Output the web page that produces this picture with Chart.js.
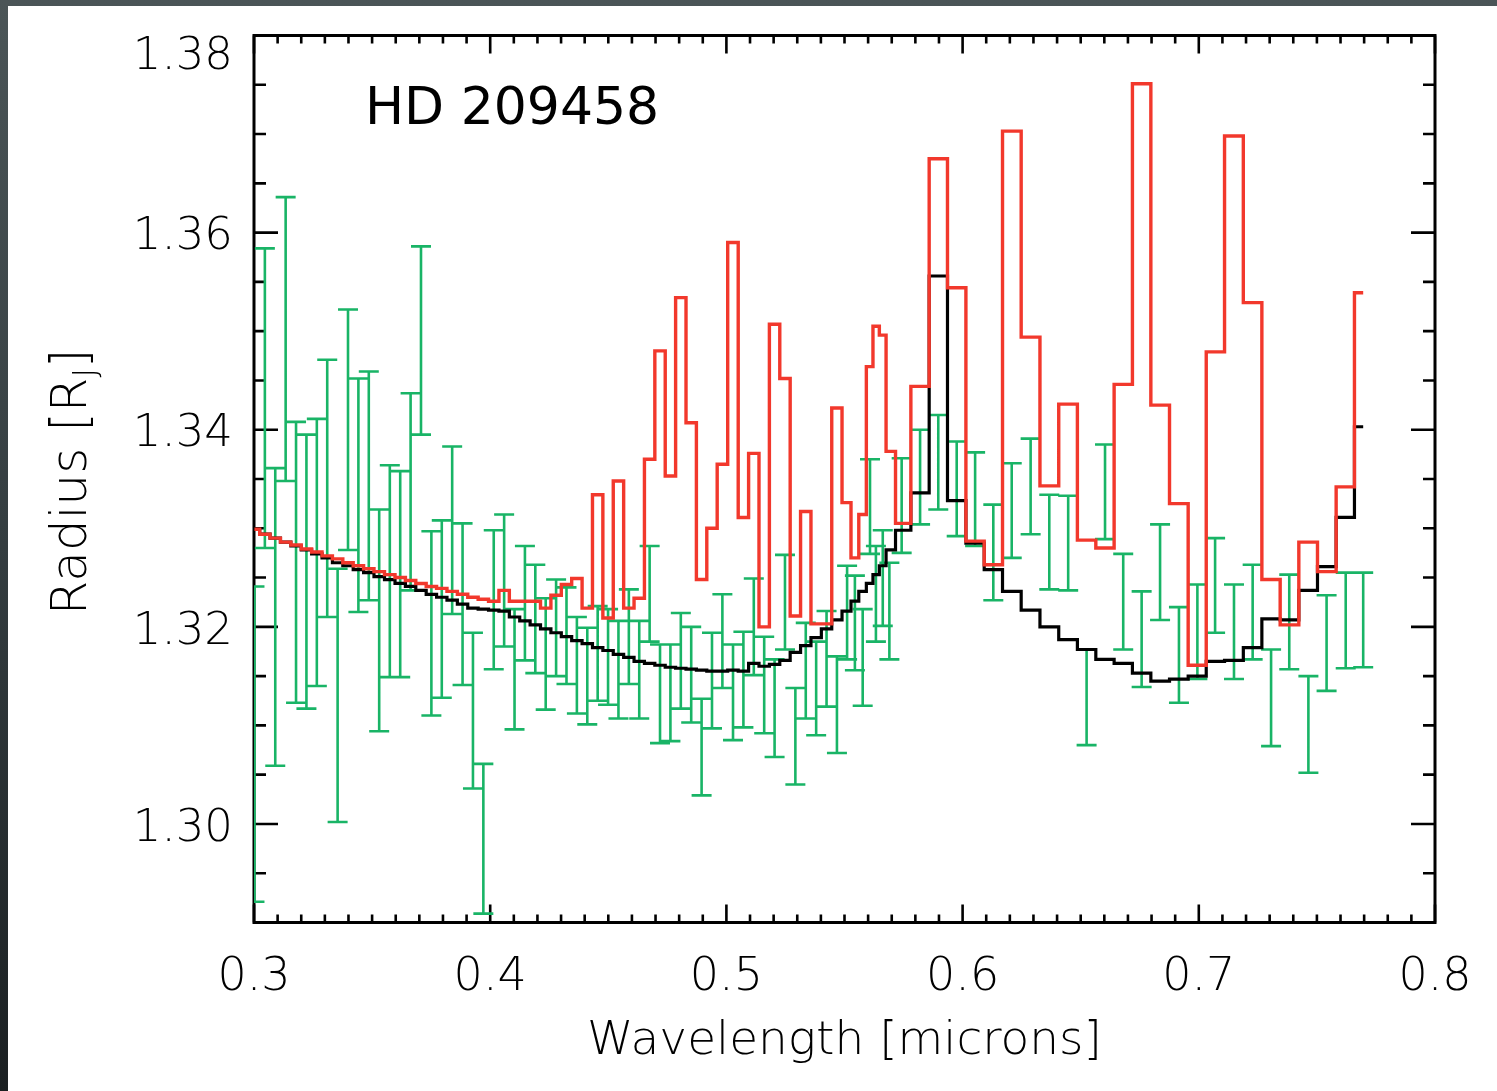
<!DOCTYPE html>
<html>
<head>
<meta charset="utf-8">
<style>
  html, body { margin: 0; padding: 0; width: 1497px; height: 1091px; overflow: hidden;
    background: linear-gradient(180deg, #4b5557 0%, #343d40 50%, #1b2022 100%); }
  #wrap { position: absolute; left: 8px; top: 6px; width: 1489px; height: 1085px; background: #ffffff; }
  canvas { display: block; }
</style>
<script src="https://cdn.jsdelivr.net/npm/chart.js@4/dist/chart.umd.min.js"></script>
</head>
<body>
<div id="wrap"><canvas id="c" width="1489" height="1085" style="width:1489px;height:1085px"></canvas></div>
<script>
// ---------------- data ----------------
const wavelength = [
  0.3002, 0.3046, 0.3090, 0.3134, 0.3178, 0.3222, 0.3266, 0.3310, 0.3354, 0.3398,
  0.3442, 0.3486, 0.3530, 0.3575, 0.3619, 0.3663, 0.3707, 0.3751, 0.3795, 0.3839,
  0.3883, 0.3927, 0.3971, 0.4015, 0.4059, 0.4103, 0.4147, 0.4191, 0.4235, 0.4279,
  0.4323, 0.4367, 0.4411, 0.4455, 0.4499, 0.4543, 0.4587, 0.4631, 0.4675, 0.4719,
  0.4763, 0.4807, 0.4851, 0.4895, 0.4939, 0.4983, 0.5028, 0.5072, 0.5116, 0.5160,
  0.5204, 0.5248, 0.5292, 0.5336, 0.5380, 0.5424, 0.5468,
  0.5511, 0.5544, 0.5577, 0.5608, 0.5633, 0.5662, 0.5690,
  0.5742, 0.5820, 0.5897, 0.5975, 0.6053, 0.6130, 0.6208, 0.6288, 0.6367, 0.6447,
  0.6525, 0.6603, 0.6680, 0.6758, 0.6836, 0.6916, 0.6994, 0.7069, 0.7149, 0.7228,
  0.7306, 0.7383, 0.7464, 0.7541, 0.7622, 0.7696
];
// observed radius: upper and lower ends of the error bars
const obsUpper = [
  1.3241, 1.3584, 1.3361, 1.3636, 1.3408, 1.3395, 1.3411, 1.3471, 1.3259, 1.3522,
  1.3452, 1.3459, 1.3319, 1.3364, 1.3358, 1.3437, 1.3586, 1.3297, 1.3308, 1.3383,
  1.3305, 1.3194, 1.3061, 1.3298, 1.3314, 1.3218, 1.3282, 1.3263, 1.3229, 1.3248,
  1.3240, 1.3210, 1.3199, 1.3221, 1.3218, 1.3206, 1.3238, 1.3206, 1.3282, 1.3182,
  1.3182, 1.3214, 1.3200, 1.3127, 1.3194, 1.3233, 1.3182, 1.3195, 1.3249, 1.3190,
  1.3167, 1.3273, 1.3138, 1.3204, 1.3185, 1.3216, 1.3170,
  1.3262, 1.3252, 1.3218, 1.3370, 1.3282, 1.3298, 1.3265,
  1.3371, 1.3400, 1.3415, 1.3388, 1.3377, 1.3324, 1.3366, 1.3391, 1.3334, 1.3333,
  1.3177, 1.3385, 1.3274, 1.3236, 1.3304, 1.3220, 1.3243, 1.3290, 1.3243, 1.3263,
  1.3177, 1.3253, 1.3150, 1.3232, 1.3255, 1.3255
];
const obsLower = [
  1.2921, 1.3280, 1.3059, 1.3348, 1.3123, 1.3117, 1.3140, 1.3210, 1.3002, 1.3278,
  1.3215, 1.3227, 1.3094, 1.3149, 1.3149, 1.3237, 1.3395, 1.3110, 1.3128, 1.3213,
  1.3141, 1.3036, 1.2909, 1.3157, 1.3180, 1.3096, 1.3166, 1.3153, 1.3116, 1.3150,
  1.3142, 1.3112, 1.3101, 1.3125, 1.3121, 1.3107, 1.3142, 1.3107, 1.3185, 1.3082,
  1.3084, 1.3117, 1.3103, 1.3029, 1.3097, 1.3138, 1.3085, 1.3098, 1.3151, 1.3092,
  1.3068, 1.3177, 1.3040, 1.3107, 1.3090, 1.3119, 1.3072,
  1.3167, 1.3156, 1.3120, 1.3274, 1.3185, 1.3201, 1.3167,
  1.3275, 1.3304, 1.3319, 1.3292, 1.3282, 1.3227, 1.3270, 1.3294, 1.3238, 1.3237,
  1.3080, 1.3289, 1.3177, 1.3139, 1.3207, 1.3123, 1.3147, 1.3194, 1.3147, 1.3167,
  1.3079, 1.3157, 1.3052, 1.3135, 1.3158, 1.3159
];
// binned model (black)
const modelBlack = [
  1.3299, 1.3294, 1.3290, 1.3286, 1.3282, 1.3278, 1.3274, 1.3270, 1.3265, 1.3262,
  1.3258, 1.3255, 1.3251, 1.3248, 1.3244, 1.3241, 1.3237, 1.3233, 1.3230, 1.3227,
  1.3223, 1.3219, 1.3218, 1.3217, 1.3216, 1.3210, 1.3206, 1.3202, 1.3198, 1.3194,
  1.3190, 1.3186, 1.3183, 1.3179, 1.3176, 1.3172, 1.3169, 1.3165, 1.3163, 1.3161,
  1.3159, 1.3158, 1.3157, 1.3156, 1.3155, 1.3155, 1.3156, 1.3155, 1.3163, 1.3160,
  1.3162, 1.3166, 1.3174, 1.3181, 1.3189, 1.3198, 1.3207,
  1.3216, 1.3226, 1.3236, 1.3244, 1.3253, 1.3262, 1.3278,
  1.3298, 1.3336, 1.3556, 1.3328, 1.3285, 1.3258, 1.3236, 1.3217, 1.3200, 1.3187,
  1.3177, 1.3167, 1.3163, 1.3153, 1.3145, 1.3147, 1.3150, 1.3165, 1.3166, 1.3179,
  1.3208, 1.3207, 1.3237, 1.3261, 1.3311, 1.3403
];
// binned model (red)
const modelRed = [
  1.3299, 1.3294, 1.3290, 1.3286, 1.3283, 1.3279, 1.3276, 1.3272, 1.3269, 1.3265,
  1.3262, 1.3259, 1.3256, 1.3253, 1.3250, 1.3247, 1.3244, 1.3241, 1.3239, 1.3236,
  1.3233, 1.3230, 1.3228, 1.3226, 1.3237, 1.3226, 1.3226, 1.3226, 1.3219, 1.3232,
  1.3243, 1.3249, 1.3219, 1.3334, 1.3209, 1.3348, 1.3219, 1.3229, 1.3370, 1.3480,
  1.3353, 1.3534, 1.3407, 1.3248, 1.3300, 1.3365, 1.3590, 1.3311, 1.3376, 1.3200,
  1.3507, 1.3452, 1.3211, 1.3317, 1.3203, 1.3203, 1.3422,
  1.3326, 1.3270, 1.3314, 1.3464, 1.3505, 1.3496, 1.3378,
  1.3305, 1.3444, 1.3675, 1.3544, 1.3287, 1.3263, 1.3703, 1.3494, 1.3343, 1.3426,
  1.3288, 1.3280, 1.3446, 1.3751, 1.3425, 1.3325, 1.3161, 1.3479, 1.3698, 1.3529,
  1.3248, 1.3202, 1.3286, 1.3256, 1.3342, 1.3539
];
const xTickValues = [0.3, 0.4, 0.5, 0.6, 0.7, 0.8];
const yTickValues = [1.30, 1.32, 1.34, 1.36, 1.38];
const xRange = [0.3, 0.8];
const yRange = [1.29, 1.38];
const xMinorStep = 0.01;
const yMinorStep = 0.005;
const starName = 'HD 209458';
const xTitle = 'Wavelength [microns]';

// ---------------- styles ----------------
const FONT = '"DejaVu Sans", "Liberation Sans", sans-serif';
const OBS_COLOR = '#19b466';
const RED_COLOR = '#f2382c';

const pts = (arr) => wavelength.map((w, i) => ({ x: w, y: arr[i] }));
const obsPoints = wavelength.map((w, i) => ({ x: w, y: (obsUpper[i] + obsLower[i]) / 2, hi: obsUpper[i], lo: obsLower[i] }));

const framePlugin = {
  id: 'frameAndBars',
  beforeDraw(chart) {
    // push the top y label down a little, as in the reference
    try {
      const items = chart.scales.y.getLabelItems();
      items.forEach(it => { if (it.label === '1.38') it.options.translation[1] += 17; });
    } catch (e) {}
  },
  beforeDatasetsDraw(chart) {
    const { ctx, chartArea: a, scales: { x, y } } = chart;
    ctx.save();
    ctx.strokeStyle = '#000';
    ctx.lineCap = 'butt';
    ctx.lineWidth = 2.6;
    ctx.beginPath();
    const nx = Math.round((xRange[1] - xRange[0]) / xMinorStep);
    for (let i = 0; i <= nx; i++) {
      const v = +(xRange[0] + i * xMinorStep).toFixed(4);
      const px = x.getPixelForValue(v);
      const major = xTickValues.some(t => Math.abs(t - v) < 1e-6);
      const len = major ? 18 : 8;
      ctx.moveTo(px, a.bottom); ctx.lineTo(px, a.bottom - len);
      ctx.moveTo(px, a.top); ctx.lineTo(px, a.top + len);
    }
    const ny = Math.round((yRange[1] - yRange[0]) / yMinorStep);
    for (let i = 0; i <= ny; i++) {
      const v = +(yRange[0] + i * yMinorStep).toFixed(4);
      const py = y.getPixelForValue(v);
      const major = yTickValues.some(t => Math.abs(t - v) < 1e-6);
      const len = major ? 24 : 12;
      ctx.moveTo(a.left, py); ctx.lineTo(a.left + len, py);
      ctx.moveTo(a.right, py); ctx.lineTo(a.right - len, py);
    }
    ctx.stroke();
    ctx.lineWidth = 3;
    ctx.strokeRect(a.left, a.top, a.right - a.left, a.bottom - a.top);
    ctx.restore();

    // error bars of the observed spectrum
    const ds = chart.data.datasets.find(d => d.isObs);
    ctx.save();
    ctx.beginPath();
    ctx.rect(a.left, a.top, a.right - a.left, a.bottom - a.top);
    ctx.clip();
    ctx.strokeStyle = OBS_COLOR;
    ctx.lineWidth = 2.6;
    ctx.beginPath();
    ds.data.forEach(d => {
      const px = x.getPixelForValue(d.x);
      const pt = y.getPixelForValue(d.hi);
      const pb = y.getPixelForValue(d.lo);
      ctx.moveTo(px, pt); ctx.lineTo(px, pb);
      ctx.moveTo(px - 10, pt); ctx.lineTo(px + 10, pt);
      ctx.moveTo(px - 10, pb); ctx.lineTo(px + 10, pb);
    });
    ctx.stroke();
    ctx.restore();
  },
  afterDraw(chart) {
    const { ctx } = chart;
    ctx.save();
    ctx.fillStyle = '#000';
    // star name
    ctx.font = '400 52px ' + FONT;
    ctx.textBaseline = 'alphabetic';
    ctx.textAlign = 'left';
    ctx.fillText(starName, 357, 118);
    // y axis title with subscript
    ctx.translate(78, 476);
    ctx.rotate(-Math.PI / 2);
    const big = '300 50px ' + FONT, small = '300 32px ' + FONT;
    ctx.font = big;
    const p1 = 'Radius [R', p3 = ']';
    const w1 = ctx.measureText(p1).width, w3 = ctx.measureText(p3).width;
    ctx.font = small;
    const w2 = ctx.measureText('J').width;
    let sx = -(w1 + w2 + w3) / 2;
    ctx.font = big; ctx.fillText(p1, sx, 0); sx += w1;
    ctx.font = small; ctx.fillText('J', sx, 9); sx += w2;
    ctx.font = big; ctx.fillText(p3, sx, 0);
    ctx.restore();
  }
};

new Chart(document.getElementById('c'), {
  type: 'line',
  data: {
    datasets: [
      { label: 'Model (red)', data: pts(modelRed), borderColor: RED_COLOR, borderWidth: 3.4,
        stepped: 'middle', pointRadius: 0, fill: false, order: 0 },
      { label: 'Model (black)', data: pts(modelBlack), borderColor: '#000000', borderWidth: 3.2,
        stepped: 'middle', pointRadius: 0, fill: false, order: 1 },
      { label: 'Observed', isObs: true, data: obsPoints, showLine: false, pointRadius: 0,
        borderColor: OBS_COLOR, order: 2 }
    ]
  },
  options: {
    responsive: false,
    animation: false,
    devicePixelRatio: 1,
    layout: { padding: { left: 0, right: 62, top: 29.5, bottom: 0 } },
    plugins: { legend: { display: false }, tooltip: { enabled: false } },
    scales: {
      x: {
        type: 'linear', min: xRange[0], max: xRange[1],
        grid: { display: false, drawTicks: false }, border: { display: false },
        afterBuildTicks: s => { s.ticks = xTickValues.map(v => ({ value: v })); },
        afterFit: s => { s.height = 168.5; s.paddingLeft = 0; s.paddingRight = 0; s.paddingTop = 0; s.paddingBottom = 0; },
        ticks: { color: '#000', padding: 28, autoSkip: false, maxRotation: 0,
          font: { family: FONT, size: 46, weight: 300 },
          callback: v => v.toFixed(1) },
        title: { display: true, text: xTitle, color: '#000',
          font: { family: FONT, size: 47, weight: 300 }, padding: { top: 0, bottom: 21 } }
      },
      y: {
        type: 'linear', min: yRange[0], max: yRange[1],
        grid: { display: false, drawTicks: false }, border: { display: false },
        afterBuildTicks: s => { s.ticks = yTickValues.map(v => ({ value: v })); },
        afterFit: s => { s.width = 246; s.paddingTop = 0; s.paddingBottom = 0; s.paddingLeft = 0; s.paddingRight = 0; },
        ticks: { color: '#000', padding: 21, autoSkip: false, labelOffset: 5,
          font: { family: FONT, size: 45, weight: 300 },
          callback: v => v.toFixed(2) }
      }
    }
  },
  plugins: [framePlugin]
});
</script>
</body>
</html>
